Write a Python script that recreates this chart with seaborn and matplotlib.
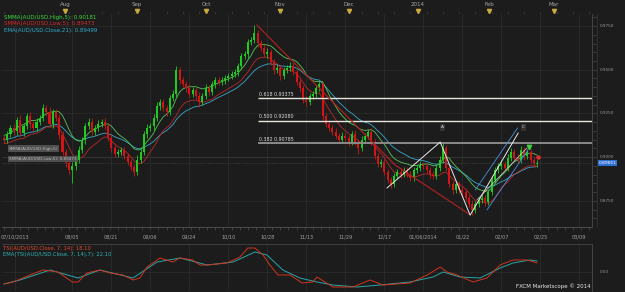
import numpy as np
import pandas as pd
import matplotlib
matplotlib.use("Agg")
import matplotlib.pyplot as plt
import matplotlib.transforms as mtrans
from matplotlib.lines import Line2D
import seaborn as sns

# ---------------- data (AUD/USD daily) ----------------
first_open = 0.9110
closes = [
    0.9098, 0.9132, 0.9167, 0.9149, 0.9212, 0.9138, 0.9178, 0.9235, 0.9189, 0.9167,
    0.9201, 0.9224, 0.9281, 0.9258, 0.9189, 0.9258, 0.9224, 0.9127, 0.9029, 0.8966,
    0.8926, 0.8949, 0.8984, 0.9041, 0.9098, 0.9178, 0.9201, 0.9144, 0.9167, 0.9189,
    0.9201, 0.9178, 0.9109, 0.9052, 0.9018, 0.9029, 0.9041, 0.9006, 0.8972, 0.8943,
    0.8915, 0.8984, 0.9029, 0.9132, 0.9167, 0.9178, 0.9224, 0.9292, 0.9315, 0.9281,
    0.9258, 0.9338, 0.9361, 0.9498, 0.9441, 0.9418, 0.9395, 0.9361, 0.9384, 0.9350,
    0.9315, 0.9350, 0.9395, 0.9372, 0.9418, 0.9441, 0.9430, 0.9441, 0.9453, 0.9464,
    0.9475, 0.9487, 0.9521, 0.9578, 0.9590, 0.9658, 0.9670, 0.9710, 0.9653, 0.9624,
    0.9590, 0.9601, 0.9544, 0.9498, 0.9510, 0.9464, 0.9498, 0.9510, 0.9521, 0.9487,
    0.9430, 0.9395, 0.9327, 0.9315, 0.9350, 0.9361, 0.9395, 0.9418, 0.9235, 0.9189,
    0.9167, 0.9144, 0.9121, 0.9098, 0.9121, 0.9109, 0.9086, 0.9132, 0.9086, 0.9052,
    0.9098, 0.9121, 0.9144, 0.9086, 0.9006, 0.8961, 0.8972, 0.8915, 0.8869, 0.8846,
    0.8892, 0.8915, 0.8903, 0.8926, 0.8903, 0.8881, 0.8926, 0.8938, 0.8955, 0.8949,
    0.8926, 0.8903, 0.8892, 0.8938, 0.8984, 0.9052, 0.8938, 0.8846, 0.8812, 0.8846,
    0.8812, 0.8800, 0.8766, 0.8732, 0.8698, 0.8732, 0.8755, 0.8766, 0.8743, 0.8800,
    0.8869, 0.8926, 0.8949, 0.8961, 0.8938, 0.8995, 0.9029, 0.8995, 0.8984, 0.9041,
    0.9006, 0.9029, 0.8984, 0.8961, 0.8966,
]
up_pips = [
    15, 20, 18, 25, 15, 30, 20, 15, 22, 18, 20, 15, 25, 20, 30, 18, 15, 20, 25, 20,
    20, 25, 30, 20, 18, 15, 22, 20, 18, 25, 15, 20, 18, 22, 15, 20, 18, 15, 20, 18,
    15, 30, 20, 18, 22, 15, 20, 25, 18, 20, 15, 20, 22, 22, 18, 20, 15, 25, 20, 18,
    20, 15, 22, 18, 20, 15, 18, 20, 15, 18, 15, 20, 18, 15, 20, 18, 15, 46, 20, 18,
    22, 25, 18, 20, 22, 18, 20, 15, 25, 18, 20, 15, 18, 20, 15, 18, 20, 15, 12, 20,
    15, 18, 20, 15, 25, 18, 20, 15, 22, 18, 20, 15, 18, 20, 15, 18, 20, 15, 18, 20,
    15, 18, 20, 15, 18, 20, 15, 18, 20, 15, 18, 20, 15, 18, 20, 34, 18, 15, 20, 18,
    15, 20, 18, 15, 20, 18, 15, 20, 18, 15, 18, 20, 15, 25, 18, 20, 22, 18, 20, 25,
    18, 20, 15, 18, 15,
]
dn_pips = [
    20, 15, 18, 20, 25, 15, 20, 18, 22, 15, 18, 20, 15, 25, 18, 20, 15, 22, 18, 20,
    25, 75, 20, 18, 15, 22, 20, 18, 15, 20, 18, 20, 15, 22, 18, 20, 15, 18, 20, 15,
    25, 20, 18, 15, 20, 18, 22, 15, 20, 18, 20, 15, 18, 15, 20, 18, 22, 15, 18, 20,
    30, 18, 20, 15, 18, 20, 15, 18, 20, 15, 18, 15, 20, 18, 15, 20, 18, 15, 20, 18,
    15, 20, 18, 22, 15, 20, 18, 15, 20, 18, 15, 20, 18, 22, 15, 20, 18, 15, 20, 18,
    20, 15, 18, 20, 15, 18, 20, 15, 18, 35, 15, 18, 20, 15, 18, 20, 15, 18, 20, 22,
    18, 15, 20, 18, 15, 20, 18, 15, 20, 18, 15, 20, 18, 15, 18, 15, 20, 18, 22, 15,
    18, 20, 15, 18, 29, 20, 18, 15, 20, 18, 15, 20, 18, 15, 20, 18, 15, 20, 18, 15,
    20, 18, 15, 20, 18,
]

# TSI(7,14) and its EMA(7) (candle index, value)
tsi_idx = [0, 2.8, 8, 12, 16.6, 21, 22.8, 25.5, 29.5, 32.6, 36.6, 39.7, 41.8, 44, 48,
           52, 54, 58, 60.3, 62.5, 68.6, 72.6, 75, 77.2, 79.7, 81.8, 84.3, 88, 91.7,
           95, 96.3, 101.2, 107.4, 112.6, 116.6, 124.9, 130.2, 134.2, 136.3, 139.4,
           144.3, 148.6, 152.6, 156.6, 160.9, 164]
tsi_val = [-24, -20, -6, 4, 0, -20, -20, -2, 4, -2, -6, -16, -12, 10, 28,
           20, 28, 24, 14, 14, 18, 30, 48, 48, 34, 14, -6, -6, -22,
           -20, -10, -30, -30, -16, -26, -22, -6, 10, 0, -6,
           -20, -12, 14, 24, 24, 18.1]
tsi_ema_idx = [0, 4.9, 14.2, 22.8, 29.5, 39.7, 47.1, 54.2, 62.5, 70.5, 77.2, 80.9,
               85.8, 91, 96.3, 101.2, 108.6, 115.7, 124.9, 132, 135.1, 140.3, 146.5,
               152.6, 156.6, 161.8, 164]
tsi_ema_val = [-24, -16, 4, -12, 4, -12, 20, 28, 14, 20, 40, 34,
               4, -12, -20, -26, -30, -26, -20, -10, 0, -10, -12,
               8, 18, 24, 22.1]

date_labels = ["07/10/2013", "08/05", "08/21", "09/06", "09/24", "10/10", "10/28",
               "11/13", "11/29", "12/17", "01/06/2014", "01/22", "02/07", "02/25", "03/09"]
date_pos = [3.4, 21, 33, 45, 57, 69, 81, 93, 105, 117, 129, 141, 153, 165, 177]
month_labels = ["Aug", "Sep", "Oct", "Nov", "Dec", "2014", "Feb", "Mar"]
month_pos = [18.8, 40.9, 62.2, 84.9, 106.2, 127.4, 149.2, 169.2]
price_ticks = [0.8750, 0.9000, 0.9250, 0.9500, 0.9750]

fib_ratios = ["0.618", "0.500", "0.382"]
fib_levels = [0.93375, 0.92080, 0.90785]
fib_colors = ["#e6e6dc", "#e6e6dc", "#8a8a8a"]
fib_start = 78.2

red_trend_idx = [77.8, 120.3, 143.4]
red_trend_px = [0.9756, 0.8955, 0.8670]
zig_idx = [117.8, 134.2, 143.4, 158.2]
zig_px = [0.8823, 0.9086, 0.8668, 0.9138]
blue1_idx, blue1_px = [145.0, 158.0], [0.8812, 0.9167]
blue2_idx, blue2_px = [148.6, 161.2], [0.8698, 0.9041]
white2_idx, white2_px = [145.5, 160.9], [0.8755, 0.9052]
pt_labels = ["A", "C"]
pt_idx = [134.8, 159.8]
pt_px = [0.9170, 0.9170]

last_price = 0.89661
tsi_last, tsi_ema_last = "18.10", "22.10"
smma_h_txt, smma_l_txt, ema_txt = "0.90181", "0.89473", "0.89499"

# ---------------- derived series ----------------
idx = np.arange(len(closes))
c = np.array(closes)
o = np.array([first_open] + closes[:-1])
h = np.maximum(o, c) + np.array(up_pips) * 1e-4
l = np.minimum(o, c) - np.array(dn_pips) * 1e-4

df = pd.DataFrame({"i": idx, "open": o, "high": h, "low": l, "close": c})
df["smma_h"] = df["high"].ewm(alpha=1 / 5, adjust=False).mean()
df["smma_l"] = df["low"].ewm(alpha=1 / 5, adjust=False).mean()
df["ema21"] = df["close"].ewm(span=21, adjust=False).mean()
tsi_df = pd.DataFrame({"i": tsi_idx, "v": tsi_val})
tsie_df = pd.DataFrame({"i": tsi_ema_idx, "v": tsi_ema_val})

# ---------------- style ----------------
sns.set_theme(style="dark")
plt.rcParams["font.family"] = ["DejaVu Sans"]
BG = "#1c1c1c"
GRID = "#2c2c2c"
W, H = 625, 292

fig = plt.figure(figsize=(6.25, 2.92), dpi=100, facecolor=BG)


def fx(px):
    return px / W


def fy(py):
    return 1 - py / H


XL = (-0.615, 180.9)
ax = fig.add_axes([fx(2), fy(227), fx(590), 213 / H], facecolor=BG)
axm = fig.add_axes([fx(2), fy(14), fx(590), 14 / H], facecolor=BG)
axd = fig.add_axes([fx(2), fy(244), fx(590), 17 / H], facecolor=BG)
axt = fig.add_axes([fx(2), fy(291), fx(590), 47 / H], facecolor=BG)

for a in (ax, axm, axd, axt):
    a.set_xlim(*XL)
    for s in a.spines.values():
        s.set_visible(False)
    a.grid(False)
    a.set_xticks([])
    a.set_yticks([])

# vertical grid
for a in (ax, axt):
    for p in date_pos:
        a.axvline(p, color=GRID, lw=0.6, zorder=0)

# ---------------- main panel ----------------
ax.set_ylim(0.8600, 0.9819)
for t in price_ticks:
    ax.axhline(t, color=GRID, lw=0.5, zorder=0)
ax.axhline(0.9000, color="#3a3a3a", lw=0.5, zorder=0)
ax.axhline(last_price, color="#444444", lw=0.5, ls=(0, (2, 2)), zorder=0)

up = df["close"] >= df["open"]
cols = np.where(up, "#1ecb1e", "#d31515")
ax.vlines(df["i"], df["low"], df["high"], colors=cols, lw=0.6, zorder=3)
body = np.maximum((df["close"] - df["open"]).abs(), 0.0003)
ax.bar(df["i"], body, bottom=np.minimum(df["open"], df["close"]), width=0.62,
       color=cols, linewidth=0, zorder=4)

sns.lineplot(data=df, x="i", y="ema21", ax=ax, color="#3aa7c8", lw=0.6, zorder=2)
sns.lineplot(data=df, x="i", y="smma_l", ax=ax, color="#b82a2a", lw=0.6, zorder=2)
sns.lineplot(data=df, x="i", y="smma_h", ax=ax, color="#56c456", lw=0.6, zorder=2)
ax.set_xlabel("")
ax.set_ylabel("")
ax.set_xlim(*XL)

# fib lines
for r, lv, col in zip(fib_ratios, fib_levels, fib_colors):
    ax.hlines(lv, fib_start, XL[1], colors=col, lw=1.0 if col != "#8a8a8a" else 1.4, zorder=5)
    ax.text(fib_start + 0.3, lv + 0.0009, f"{r} {lv:.5f}", color="#dcdcdc",
            fontsize=3.4, va="bottom", ha="left", zorder=6)

# trend / pattern lines
ax.plot(red_trend_idx, red_trend_px, color="#a82020", lw=0.9, zorder=5)
ax.plot(zig_idx, zig_px, color="#e8e8e8", lw=0.7, zorder=6)
ax.plot(white2_idx, white2_px, color="#d8d8d8", lw=0.5, zorder=6)
ax.plot(blue1_idx, blue1_px, color="#4a8fe0", lw=0.6, zorder=6)
ax.plot(blue2_idx, blue2_px, color="#4a8fe0", lw=0.6, zorder=6)
for lab, xi, yp in zip(pt_labels, pt_idx, pt_px):
    ax.text(xi, yp, lab, color="#dddddd", fontsize=3.2, ha="center", va="center",
            zorder=7, bbox=dict(boxstyle="square,pad=0.25", fc="#333333", ec="none"))
ax.plot([161.5], [0.9055], marker="v", color="#3cd23c", ms=3.2, zorder=8)
ax.plot([164.2], [0.9003], marker="o", color="#e03030", ms=2.2, zorder=8)

# right axis labels
blend = mtrans.blended_transform_factory(ax.transAxes, ax.transData)
xr = (600 - 2) / 590
for t in price_ticks:
    ax.text(xr, t, f"{t:.4f}", transform=blend, color="#9a9a9a", fontsize=3.0,
            ha="left", va="center", clip_on=False)
for t in np.arange(0.865, 0.9801, 0.005):
    ax.plot([(593 - 2) / 590, (596 - 2) / 590], [t, t], transform=blend,
            color="#555555", lw=0.4, clip_on=False)
ax.text(xr - 0.002, last_price, f"{last_price:.5f}", transform=blend, color="white",
        fontsize=3.2, ha="left", va="center", clip_on=False,
        bbox=dict(boxstyle="square,pad=0.15", fc="#2f6fd0", ec="none"))
fig.add_artist(Line2D([fx(592), fx(592)], [fy(14), fy(227)], color="#4a4a4a", lw=0.6))
fig.add_artist(Line2D([fx(597), fx(597)], [fy(14), fy(227)], color="#3a3a3a", lw=0.5))

# legends
fig.text(fx(4), fy(17), f"SMMA(AUD/USD.High,5): {smma_h_txt}", color="#3fd83f",
         fontsize=4.0, va="center")
fig.text(fx(4), fy(24), f"SMMA(AUD/USD.Low,5): {smma_l_txt}", color="#d82a2a",
         fontsize=4.0, va="center")
fig.text(fx(4), fy(30.5), f"EMA(AUD/USD.Close,21): {ema_txt}", color="#2fb0d0",
         fontsize=4.0, va="center")

# grey value tags on the left
ax.text(1.5, 0.9048, "SMMA(AUD/USD.High,5)", color="#bbbbbb", fontsize=3.0, va="center",
        bbox=dict(boxstyle="square,pad=0.3", fc="#555555", ec="none", alpha=0.9), zorder=9)
ax.text(1.5, 0.8990, "SMMA(AUD/USD.Low,5): 0.89473", color="#bbbbbb", fontsize=3.0,
        va="center", bbox=dict(boxstyle="square,pad=0.3", fc="#555555", ec="none",
                               alpha=0.9), zorder=9)

# ---------------- month strip ----------------
axm.set_ylim(0, 1)
for lab, p in zip(month_labels, month_pos):
    axm.text(p, 0.66, lab, color="#a8a8a8", fontsize=4.0, ha="center", va="center")
    axm.plot([p], [0.22], marker="v", color="#c9aa3c", ms=3.0)
for p in np.arange(0, 181, 5):
    axm.plot([p, p], [0.0, 0.12], color="#555555", lw=0.4)
axm.axhline(0.01, color="#555555", lw=0.6)

# ---------------- date strip ----------------
axd.set_ylim(0, 1)
for lab, p in zip(date_labels, date_pos):
    axd.text(p, 0.42, lab, color="#a0a0a0", fontsize=3.6, ha="center", va="center")
for p in np.arange(0, 181, 2.5):
    axd.plot([p, p], [0.82, 1.0], color="#555555", lw=0.4)
axd.axhline(0.99, color="#555555", lw=0.6)

# ---------------- TSI panel ----------------
sns.lineplot(data=tsie_df, x="i", y="v", ax=axt, color="#2aa6a6", lw=0.7)
sns.lineplot(data=tsi_df, x="i", y="v", ax=axt, color="#d0341e", lw=0.7)
axt.set_xlabel("")
axt.set_ylabel("")
axt.set_xlim(*XL)
axt.set_ylim(-38, 56)
axt.axhline(0, color=GRID, lw=0.5, zorder=0)
blend_t = mtrans.blended_transform_factory(axt.transAxes, axt.transData)
axt.text(xr, 0, "0.00", transform=blend_t, color="#9a9a9a", fontsize=3.0,
         ha="left", va="center", clip_on=False)
fig.add_artist(Line2D([fx(2), fx(592)], [fy(244), fy(244)], color="#444444", lw=0.6))
fig.add_artist(Line2D([fx(592), fx(592)], [fy(244), fy(291)], color="#4a4a4a", lw=0.6))
fig.text(fx(3), fy(248.5), f"TSI(AUD/USD.Close, 7, 14): {tsi_last}", color="#e0452a",
         fontsize=3.8, va="center")
fig.text(fx(3), fy(254.5), f"EMA(TSI(AUD/USD.Close, 7, 14),7): {tsi_ema_last}",
         color="#2fb3b3", fontsize=3.8, va="center")
fig.text(fx(591), fy(286), "FXCM Marketscope \u00a9 2014", color="#e8e8e8",
         fontsize=4.0, ha="right", va="center")

fig.savefig("out.png", dpi=100, facecolor=BG)
